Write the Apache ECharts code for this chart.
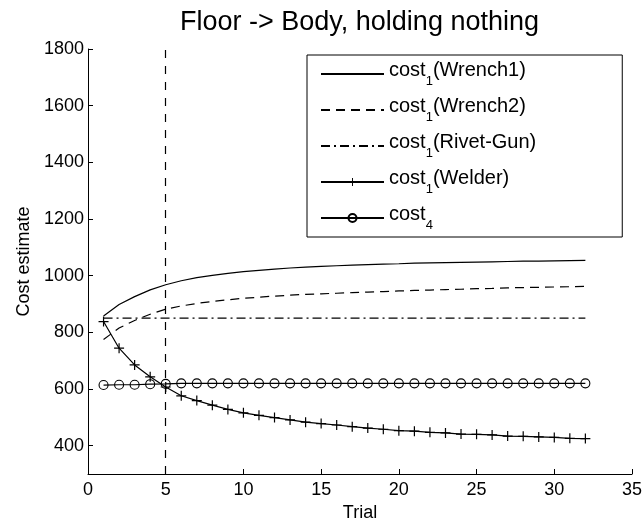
<!DOCTYPE html>
<html>
<head>
<meta charset="utf-8">
<script src="https://cdn.jsdelivr.net/npm/echarts@6/dist/echarts.min.js"></script>
<style>
  html, body { margin: 0; padding: 0; background: #fff; }
  #main { width: 644px; height: 525px; }
</style>
</head>
<body>
<div id="main"></div>
<script>
var trials = [];
for (var t = 1; t <= 32; t++) trials.push(t);

var wrench1 = [858, 898, 926, 950, 968, 982, 993, 1001, 1008, 1014, 1019, 1023, 1027, 1030, 1033, 1035,
               1037, 1039, 1041, 1042, 1044, 1045, 1046, 1047, 1048, 1049, 1050, 1051, 1051, 1052, 1053, 1054];
var wrench2 = [775, 815, 842, 864, 882, 893, 902, 909, 915, 920, 924, 928, 931, 934, 936, 938,
               940, 942, 944, 946, 948, 949, 951, 952, 954, 955, 957, 958, 959, 960, 961, 962];
var rivetGun = [850, 850, 850, 850, 850, 850, 850, 850, 850, 850, 850, 850, 850, 850, 850, 850,
                850, 850, 850, 850, 850, 850, 850, 850, 850, 850, 850, 850, 850, 850, 850, 850];
var welder = [838, 744, 685, 643, 607, 576, 559, 543, 528, 516, 507, 499, 491, 483, 478, 473,
              467, 462, 458, 453, 451, 447, 445, 441, 440, 438, 434, 433, 431, 429, 426, 425];
var cost4 = [614, 615, 615, 617, 618, 620, 620, 620, 620, 620, 620, 620, 620, 620, 620, 620,
             620, 620, 620, 620, 620, 620, 620, 620, 620, 620, 620, 620, 620, 620, 620, 620];

var seriesNames = ['Wrench1', 'Wrench2', 'Rivet-Gun', 'Welder', 'cost4'];
var legendSub = ['1', '1', '1', '1', '4'];
var legendSuffix = ['(Wrench1)', '(Wrench2)', '(Rivet-Gun)', '(Welder)', ''];
var markerTrial = [5];
var yTicks = [400, 600, 800, 1000, 1200, 1400, 1600, 1800];

var FONT = '"Liberation Sans", Arial, Helvetica, sans-serif';
var plusPath = 'path://M-0.6,-5L0.6,-5L0.6,-0.6L5,-0.6L5,0.6L0.6,0.6L0.6,5L-0.6,5L-0.6,0.6L-5,0.6L-5,-0.6L-0.6,-0.6Z';

function pairs(ys) {
    return ys.map(function (y, i) { return [trials[i], y]; });
}

var myChart = echarts.init(document.getElementById('main'), null, { renderer: 'canvas' });

// lines without markers: hide the legend symbol, keep the line sample
var legendData = seriesNames.map(function (n, i) {
    if (i < 3) return { name: n, itemStyle: { opacity: 0 } };
    return { name: n };
});

var option = {
    backgroundColor: '#fff',
    animation: false,
    title: {
        text: 'Floor -> Body, holding nothing',
        left: 180,
        top: 0,
        padding: [9, 0, 5, 0],
        textStyle: { fontFamily: FONT, fontSize: 27, fontWeight: 'normal', color: '#000' }
    },
    grid: { left: 88, right: 12, top: 49, bottom: 51, outerBoundsMode: 'none' },
    legend: {
        orient: 'vertical',
        left: 307,
        top: 55,
        padding: [5, 86, 5, 13],
        itemGap: 8,
        itemWidth: 63,
        itemHeight: 10,
        borderColor: '#000',
        borderWidth: 1,
        backgroundColor: '#fff',
        data: legendData,
        formatter: function (name) {
            var i = seriesNames.indexOf(name);
            var s = '{m|cost}{s|' + legendSub[i] + '}';
            if (legendSuffix[i]) s += '{m|' + legendSuffix[i] + '}';
            return s;
        },
        textStyle: {
            fontFamily: FONT,
            fontSize: 20,
            color: '#000',
            rich: {
                m: { fontFamily: FONT, fontSize: 20, color: '#000', lineHeight: 28, verticalAlign: 'top' },
                s: { fontFamily: FONT, fontSize: 13, color: '#000', lineHeight: 8, verticalAlign: 'bottom' }
            }
        }
    },
    xAxis: {
        type: 'value',
        min: 0,
        max: 35,
        interval: 5,
        name: 'Trial',
        nameLocation: 'middle',
        nameGap: 28,
        nameTextStyle: { fontFamily: FONT, fontSize: 18, color: '#000' },
        axisLine: { lineStyle: { color: '#000', width: 1 } },
        axisTick: { inside: true, length: 5, lineStyle: { color: '#000' } },
        axisLabel: { fontFamily: FONT, fontSize: 18, color: '#000', margin: 7 },
        splitLine: { show: false }
    },
    yAxis: {
        type: 'value',
        min: 300,
        max: 1800,
        name: 'Cost estimate',
        nameLocation: 'middle',
        nameGap: 48,
        nameTextStyle: { fontFamily: FONT, fontSize: 18, color: '#000' },
        axisLine: { show: true, lineStyle: { color: '#000', width: 1 } },
        axisTick: { show: true, inside: true, length: 5, customValues: yTicks, lineStyle: { color: '#000' } },
        axisLabel: {
            fontFamily: FONT, fontSize: 18, color: '#000', margin: 4, customValues: yTicks,
            formatter: function (v) { return String(v); }
        },
        splitLine: { show: false }
    },
    series: [
        {
            name: 'Wrench1', type: 'line', data: pairs(wrench1), symbol: 'none',
            lineStyle: { color: '#000', width: 1.2, type: 'solid' },
            itemStyle: { color: '#000' },
            markLine: {
                silent: true,
                symbol: ['none', 'none'],
                label: { show: false },
                lineStyle: { color: '#000', width: 1.2, type: [8, 8] },
                data: markerTrial.map(function (x) { return { xAxis: x }; })
            }
        },
        {
            name: 'Wrench2', type: 'line', data: pairs(wrench2), symbol: 'none',
            lineStyle: { color: '#000', width: 1.2, type: [9, 6] },
            itemStyle: { color: '#000' }
        },
        {
            name: 'Rivet-Gun', type: 'line', data: pairs(rivetGun), symbol: 'none',
            lineStyle: { color: '#000', width: 1.1, type: [9, 4, 2, 4] },
            itemStyle: { color: '#000' }
        },
        {
            name: 'Welder', type: 'line', data: pairs(welder), symbol: plusPath, symbolSize: 10,
            showAllSymbol: true,
            lineStyle: { color: '#000', width: 1.2 },
            itemStyle: { color: '#000' }
        },
        {
            name: 'cost4', type: 'line', data: pairs(cost4), symbol: 'circle', symbolSize: 9,
            showAllSymbol: true,
            lineStyle: { color: '#000', width: 1.2 },
            itemStyle: { color: 'rgba(0,0,0,0)', borderColor: '#000', borderWidth: 1.1 }
        }
    ]
};

myChart.setOption(option);
</script>
</body>
</html>
